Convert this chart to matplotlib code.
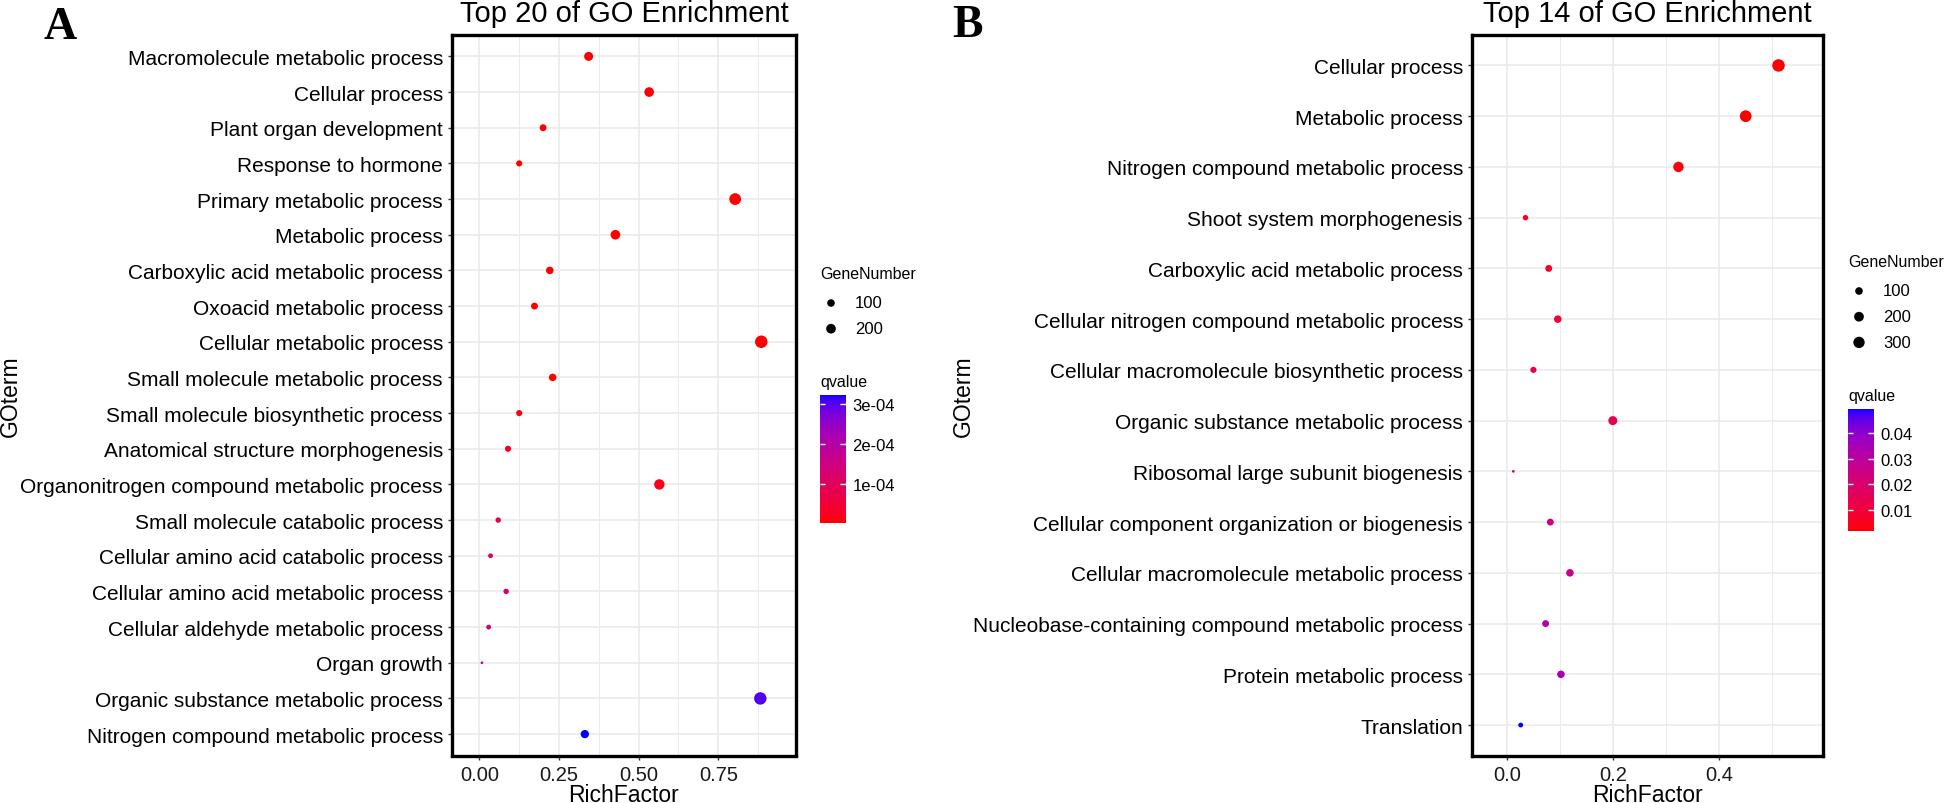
import numpy as np
import matplotlib
matplotlib.use("Agg")
import matplotlib.pyplot as plt
from matplotlib.colors import ListedColormap

W, H = 1948, 804

# ---- panel A : top 20 terms, listed top to bottom
terms_a = ["Macromolecule metabolic process", "Cellular process", "Plant organ development",
           "Response to hormone", "Primary metabolic process", "Metabolic process",
           "Carboxylic acid metabolic process", "Oxoacid metabolic process",
           "Cellular metabolic process", "Small molecule metabolic process",
           "Small molecule biosynthetic process", "Anatomical structure morphogenesis",
           "Organonitrogen compound metabolic process", "Small molecule catabolic process",
           "Cellular amino acid catabolic process", "Cellular amino acid metabolic process",
           "Cellular aldehyde metabolic process", "Organ growth",
           "Organic substance metabolic process", "Nitrogen compound metabolic process"]
rich_a = [0.343, 0.533, 0.200, 0.125, 0.803, 0.427, 0.221, 0.173, 0.885, 0.230,
          0.125, 0.090, 0.565, 0.059, 0.035, 0.084, 0.029, 0.008, 0.882, 0.331]
genes_a = [165, 199, 76, 53, 334, 199, 99, 76, 390, 99,
           53, 53, 242, 35, 23, 35, 23, 5, 385, 130]
qval_a = [1e-9, 1e-10, 2e-8, 5e-7, 1e-12, 1e-11, 3e-7, 4e-7, 1e-12, 8e-7,
          0.08e-4, 0.25e-4, 0.15e-4, 0.9e-4, 1.1e-4, 1.25e-4, 1.5e-4, 1.8e-4, 3.02e-4, 3.21e-4]
ticks_a = [0.0, 0.25, 0.5, 0.75]
ticklabels_a = ["0.00", "0.25", "0.50", "0.75"]
minor_a = [0.125, 0.375, 0.625, 0.875]
qticks_a = [1e-4, 2e-4, 3e-4]
qticklabels_a = ["1e-04", "2e-04", "3e-04"]
gene_breaks_a = [100, 200]

# ---- panel B : top 14 terms
terms_b = ["Cellular process", "Metabolic process", "Nitrogen compound metabolic process",
           "Shoot system morphogenesis", "Carboxylic acid metabolic process",
           "Cellular nitrogen compound metabolic process",
           "Cellular macromolecule biosynthetic process", "Organic substance metabolic process",
           "Ribosomal large subunit biogenesis", "Cellular component organization or biogenesis",
           "Cellular macromolecule metabolic process",
           "Nucleobase-containing compound metabolic process", "Protein metabolic process",
           "Translation"]
rich_b = [0.512, 0.450, 0.323, 0.034, 0.078, 0.095, 0.049, 0.199, 0.011, 0.081,
          0.118, 0.072, 0.101, 0.025]
genes_b = [385, 330, 239, 35, 75, 98, 53, 163, 5, 75, 98, 75, 98, 23]
qval_b = [0.0017, 0.0020, 0.0030, 0.0040, 0.0060, 0.0090, 0.0130, 0.0140, 0.0160,
          0.0220, 0.0250, 0.0320, 0.0340, 0.0494]
ticks_b = [0.0, 0.2, 0.4]
ticklabels_b = ["0.0", "0.2", "0.4"]
minor_b = [0.1, 0.3, 0.5]
qticks_b = [0.01, 0.02, 0.03, 0.04]
qticklabels_b = ["0.01", "0.02", "0.03", "0.04"]
gene_breaks_b = [100, 200, 300]

plt.rcParams['font.family'] = ['Liberation Sans', 'DejaVu Sans']


def lab_gradient(c1, c2, n=256):
    # ggplot style gradient: interpolate in CIE Lab
    M = np.array([[0.4124, 0.3576, 0.1805], [0.2126, 0.7152, 0.0722], [0.0193, 0.1192, 0.9505]])
    white = np.array([0.95047, 1.0, 1.08883])

    def to_lab(rgb):
        rgb = np.asarray(rgb, float)
        lin = np.where(rgb <= 0.04045, rgb / 12.92, ((rgb + 0.055) / 1.055) ** 2.4)
        xyz = M @ lin / white
        f = np.where(xyz > 0.008856, np.cbrt(xyz), 7.787 * xyz + 16 / 116)
        return np.array([116 * f[1] - 16, 500 * (f[0] - f[1]), 200 * (f[1] - f[2])])

    t = np.linspace(0, 1, n)[:, None]
    lab = to_lab(c1) * (1 - t) + to_lab(c2) * t
    fy = (lab[:, 0] + 16) / 116
    f = np.stack([fy + lab[:, 1] / 500, fy, fy - lab[:, 2] / 200], axis=1)
    xyz = np.where(f ** 3 > 0.008856, f ** 3, (f - 16 / 116) / 7.787) * white
    lin = np.clip(xyz @ np.linalg.inv(M).T, 0, 1)
    rgb = np.where(lin <= 0.0031308, 12.92 * lin, 1.055 * lin ** (1 / 2.4) - 0.055)
    return ListedColormap(np.clip(rgb, 0, 1))


cmap = lab_gradient((1, 0, 0), (0, 0, 1))


def dot_size(g, gmin, gmax):
    d_px = 2.7 + (12.5 - 2.7) * np.sqrt((np.asarray(g, float) - gmin) / (gmax - gmin))
    return (d_px * 72 / 100) ** 2


def px_rect(left, top, right, bottom):
    return [left / W, 1 - bottom / H, (right - left) / W, (bottom - top) / H]


fig = plt.figure(figsize=(W / 100, H / 100), dpi=100)
canvas = fig.add_axes([0, 0, 1, 1])
canvas.set_xlim(0, W)
canvas.set_ylim(H, 0)
canvas.axis('off')


def panel(box, terms, rich, genes, qval, xlim, ticks, ticklabels, minor, title,
          leg, qticks, qticklabels, breaks, letter, letter_xy, ylab_x):
    left, top, right, bottom = box
    ax = fig.add_axes(px_rect(*box))
    n = len(terms)
    y = np.arange(n)[::-1]
    qmin, qmax = min(qval), max(qval)
    gmin, gmax = min(genes), max(genes)
    ax.scatter(rich, y, s=dot_size(genes, gmin, gmax), c=qval, cmap=cmap,
               vmin=qmin, vmax=qmax, edgecolors='none', zorder=3)
    ax.set_ylim(-0.6, n - 0.4)
    ax.set_xlim(*xlim)
    ax.set_yticks(y)
    ax.set_yticklabels(terms, fontsize=15, color='black')
    ax.set_xticks(ticks)
    ax.set_xticklabels(ticklabels, fontsize=14.5, color='#1a1a1a')
    ax.set_xticks(minor, minor=True)
    ax.tick_params(which='major', length=3, width=1, color='#333333', pad=3.5)
    ax.tick_params(which='minor', length=0)
    ax.set_axisbelow(True)
    ax.grid(which='major', color='#EBEBEB', lw=1.2)
    ax.grid(which='minor', axis='x', color='#EBEBEB', lw=0.7)
    for sp in ax.spines.values():
        sp.set_linewidth(2.4)
        sp.set_color('black')

    cx = (left + right) / 2
    canvas.text(cx, 22, title, ha='center', va='baseline', fontsize=21)
    canvas.text(cx, 802, "RichFactor", ha='center', va='baseline', fontsize=16.5)
    canvas.text(ylab_x, (top + bottom) / 2, "GOterm", ha='center', va='center',
                rotation=90, fontsize=16.5)
    canvas.text(letter_xy[0], letter_xy[1], letter, ha='left', va='baseline', fontsize=33,
                fontweight='bold', family='Liberation Serif')

    # size legend
    lx, ly = leg
    canvas.text(lx, ly, "GeneNumber", ha='left', va='center', fontsize=11.5)
    for i, b in enumerate(breaks):
        yy = ly + 29 + i * 25.7
        canvas.scatter([lx + 11], [yy], s=dot_size(b, gmin, gmax), color='black',
                       edgecolors='none')
        canvas.text(lx + 35, yy, str(b), ha='left', va='center', fontsize=12)

    # colour bar
    qy = ly + 29 + len(breaks) * 25.7 + 27
    canvas.text(lx, qy, "qvalue", ha='left', va='center', fontsize=11.5)
    cb_top = qy + 14
    cb_h = 128 if len(breaks) == 2 else 122
    cax = fig.add_axes(px_rect(lx, cb_top, lx + 25.5, cb_top + cb_h))
    grad = np.linspace(qmin, qmax, 256)[:, None]
    cax.imshow(grad, extent=[0, 1, qmin, qmax], origin='lower', aspect='auto', cmap=cmap,
               vmin=qmin, vmax=qmax)
    cax.set_xlim(0, 1)
    cax.set_ylim(qmin, qmax)
    cax.hlines(qticks, 0, 0.2, color='white', lw=1)
    cax.hlines(qticks, 0.8, 1, color='white', lw=1)
    cax.set_xticks([])
    cax.yaxis.tick_right()
    cax.set_yticks(qticks)
    cax.set_yticklabels(qticklabels, fontsize=12)
    cax.tick_params(length=0, pad=5)
    for sp in cax.spines.values():
        sp.set_visible(False)
    return ax


panel((452, 36, 796, 756.5), terms_a, rich_a, genes_a, qval_a, (-0.086, 0.994),
      ticks_a, ticklabels_a, minor_a, "Top 20 of GO Enrichment", (820, 275),
      qticks_a, qticklabels_a, gene_breaks_a, "A", (44, 39), 10)
panel((1472, 36, 1823, 756.5), terms_b, rich_b, genes_b, qval_b, (-0.067, 0.596),
      ticks_b, ticklabels_b, minor_b, "Top 14 of GO Enrichment", (1848, 263),
      qticks_b, qticklabels_b, gene_breaks_b, "B", (952, 37), 963)

fig.savefig("out.png", dpi=100)
